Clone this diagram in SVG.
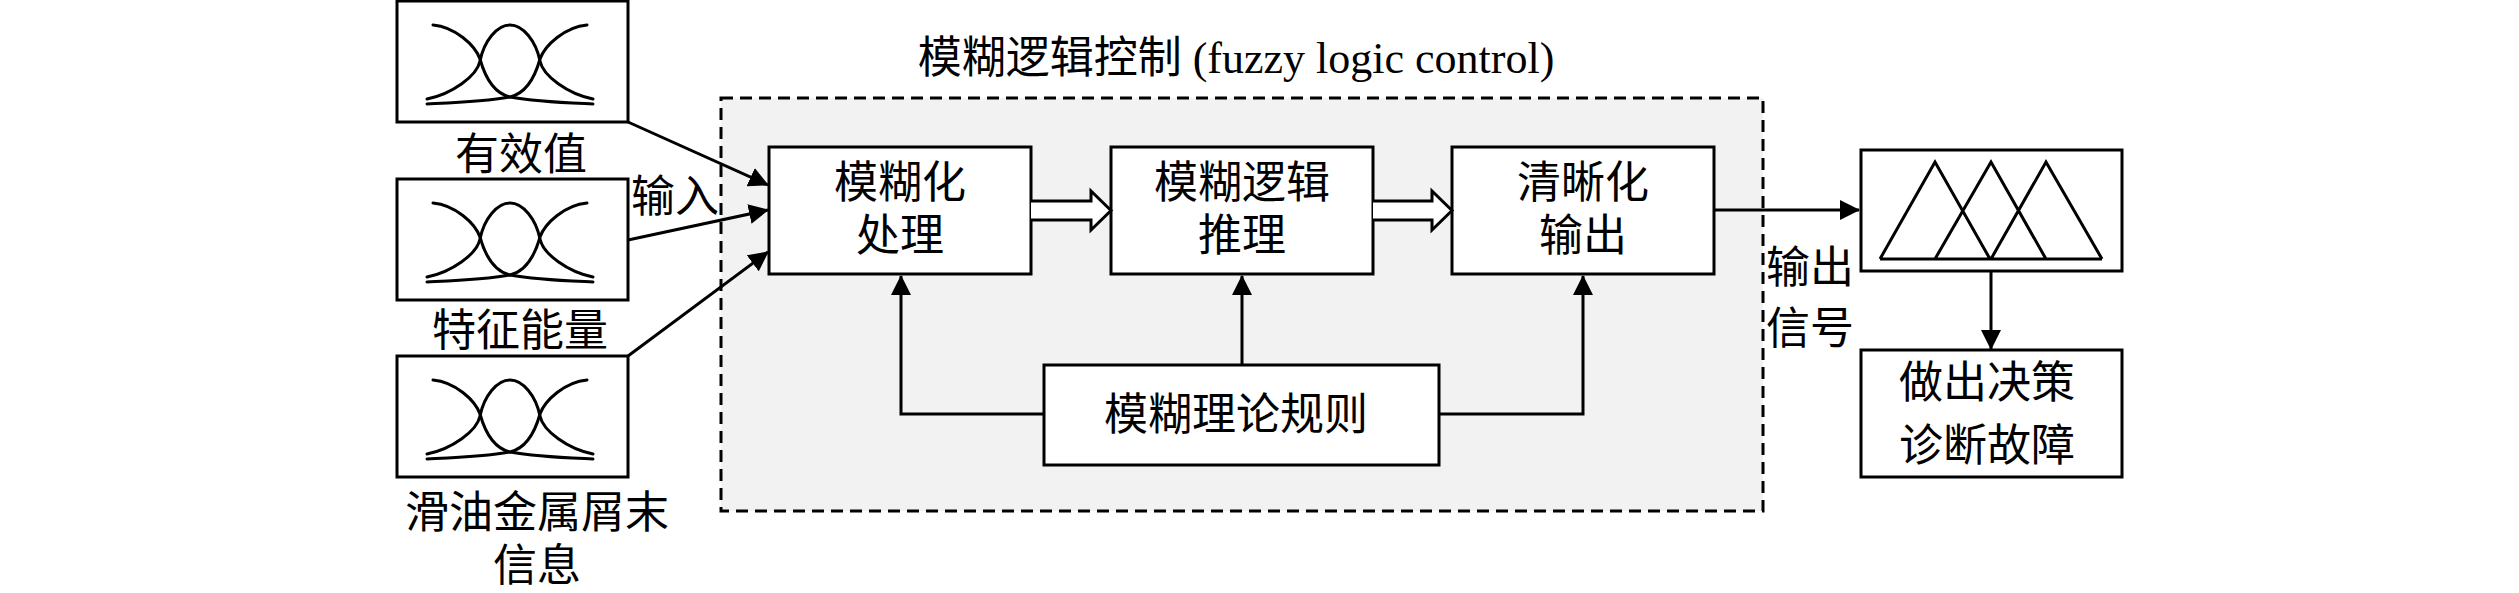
<svg xmlns="http://www.w3.org/2000/svg" xmlns:xlink="http://www.w3.org/1999/xlink" width="2519" height="593" viewBox="0 0 2519 593">
<style>
.box{fill:#fff;stroke:#000;stroke-width:3}
.ln{fill:none;stroke:#000;stroke-width:3}
.mf{fill:none;stroke:#000;stroke-width:3;stroke-linecap:round}
.hollow{fill:#fff;stroke:#000;stroke-width:3;stroke-linejoin:miter}
.t{font-family:"Liberation Serif","Noto Sans CJK SC",serif;font-size:44px;fill:#000;text-anchor:middle}
</style>
<defs>
<marker id="ah" markerUnits="userSpaceOnUse" markerWidth="20" markerHeight="20" refX="19" refY="10" orient="auto">
<path d="M0,0 L20,10 L0,20 z" fill="#000"/>
</marker>
<g id="mfshape">
<path class="mf" d="M30,98 C55,93 80,75 83,60 C87,40 100,24 113,24 C126,24 139,40 143,60 C146,75 171,93 196,98"/>
<path class="mf" d="M36,24 C58,26 78,44 83,58 C88,76 96,92 113,96 C140,101 175,102 196,103"/>
<path class="mf" d="M190,24 C168,26 148,44 143,58 C138,76 130,92 113,96 C86,101 51,102 30,103"/>
</g>
</defs>
<rect width="2519" height="593" fill="#fff"/>

<g id="flc-frame">
<rect x="721" y="98" width="1042" height="413" fill="#f2f2f2" stroke="#000" stroke-width="3" stroke-dasharray="12 7"/>
<text class="t" x="1236" y="73">模糊逻辑控制 (fuzzy logic control)</text>
</g>

<g id="in1">
<rect class="box" x="397" y="1" width="231" height="121"/>
<use xlink:href="#mfshape" x="397" y="1"/>
<text class="t" x="521" y="170">有效值</text>
</g>
<g id="in2">
<rect class="box" x="397" y="179" width="231" height="121"/>
<use xlink:href="#mfshape" x="397" y="179"/>
<text class="t" x="520" y="346">特征能量</text>
</g>
<g id="in3">
<rect class="box" x="397" y="356" width="231" height="121"/>
<use xlink:href="#mfshape" x="397" y="356"/>
<text class="t" x="537" y="528">滑油金属屑末</text>
<text class="t" x="537" y="581">信息</text>
</g>

<g id="fuzzify">
<rect class="box" x="769" y="147" width="262" height="127"/>
<text class="t" x="900" y="198">模糊化</text>
<text class="t" x="900" y="251">处理</text>
</g>
<g id="inference">
<rect class="box" x="1111" y="147" width="262" height="127"/>
<text class="t" x="1242" y="198">模糊逻辑</text>
<text class="t" x="1242" y="251">推理</text>
</g>
<g id="defuzzify">
<rect class="box" x="1452" y="147" width="262" height="127"/>
<text class="t" x="1583" y="198">清晰化</text>
<text class="t" x="1583" y="251">输出</text>
</g>
<g id="rules">
<rect class="box" x="1044" y="365" width="395" height="100"/>
<text class="t" x="1236" y="430">模糊理论规则</text>
</g>

<g id="outmf">
<rect class="box" x="1861" y="150" width="261" height="121"/>
<path class="ln" stroke-linejoin="miter" d="M1880,259 L1935,162 L1990,259 M1935,259 L1991,162 L2046,259 M1991,259 L2046,162 L2102,259 M1880,259 L2102,259"/>
</g>
<g id="decision">
<rect class="box" x="1861" y="350" width="261" height="127"/>
<text class="t" x="1987" y="398">做出决策</text>
<text class="t" x="1987" y="461">诊断故障</text>
</g>

<g id="labels">
<text class="t" x="675" y="212">输入</text>
<text class="t" x="1810" y="283">输出</text>
<text class="t" x="1810" y="344">信号</text>
</g>

<g id="connectors">
<line class="ln" x1="628" y1="122" x2="768" y2="185" marker-end="url(#ah)"/>
<line class="ln" x1="628" y1="240" x2="768" y2="210" marker-end="url(#ah)"/>
<line class="ln" x1="628" y1="356" x2="768" y2="252" marker-end="url(#ah)"/>
<path class="hollow" d="M1031,201 L1091,201 L1091,191 L1111,210.5 L1091,230 L1091,220 L1031,220"/>
<path class="hollow" d="M1373,201 L1432,201 L1432,191 L1452,210.5 L1432,230 L1432,220 L1373,220"/>
<line class="ln" x1="1714" y1="210" x2="1859" y2="210" marker-end="url(#ah)"/>
<line class="ln" x1="1991" y1="271" x2="1991" y2="349" marker-end="url(#ah)"/>
<polyline class="ln" points="1044,414 901,414 901,276" marker-end="url(#ah)"/>
<line class="ln" x1="1242" y1="365" x2="1242" y2="276" marker-end="url(#ah)"/>
<polyline class="ln" points="1439,414 1583,414 1583,276" marker-end="url(#ah)"/>
</g>
</svg>
